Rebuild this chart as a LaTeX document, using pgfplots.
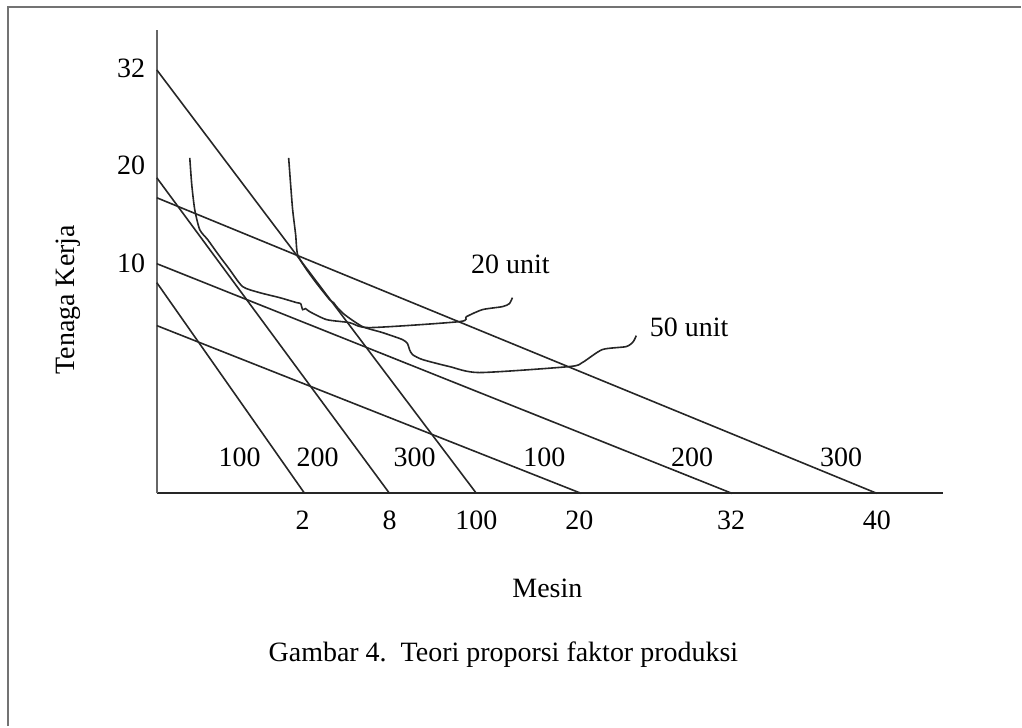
\documentclass[border=0pt]{standalone}
\usepackage{fontspec}
\setmainfont{Liberation Serif}
\usepackage{pgfplots}
\pgfplotsset{compat=1.18}

\begin{document}
\fontsize{14}{16.8}\selectfont
\begin{tikzpicture}
\begin{axis}[
	x=0.5pt, y=0.5pt,
	xmin=0, xmax=787, ymin=0, ymax=464,
	axis lines=left,
	axis line style={-, line width=1pt},
	x axis line style={black!85},
	y axis line style={black!60},
	major tick length=0pt,
	xtick={146,233,320,423,575,721},
	xticklabels={2,8,100,20,32,40},
	ytick={230,328,426},
	yticklabels={10,20,32},
	xticklabel style={yshift=-4pt},
	yticklabel style={xshift=-1pt},
	xlabel={Mesin},
	xlabel style={at={(axis cs:391,-95)}, anchor=center},
	ylabel={Tenaga Kerja},
	ylabel style={at={(axis cs:-89,194)}, anchor=center},
	clip=false,
	ln/.style={black!85, line width=0.8pt, mark=none},
]
% isocost lines
\addplot[ln] coordinates {(0,211) (148,0)};
\addplot[ln] coordinates {(0,316) (233,0)};
\addplot[ln] coordinates {(0,424) (320,0)};
\addplot[ln] coordinates {(0,168) (425,0)};
\addplot[ln] coordinates {(0,230) (576,0)};
\addplot[ln] coordinates {(0,296) (721,0)};
% isoquant 20 unit
\addplot[ln, smooth, tension=0.4] coordinates {
	(33,336) (35,309) (38,284) (43,264) (51,254) (61,240) (73,224) (86,207)
	(103,201) (123,196) (140,191) (144,190) (146,184) (149,185) (153,182)
	(170,174) (193,171) (213,166) (303,172) (310,177) (326,184) (346,187)
	(353,190) (356,196)
};
% isoquant 50 unit
\addplot[ln, smooth, tension=0.4] coordinates {
	(132,336) (134,309) (136,284) (139,259) (141,239) (150,224) (161,209)
	(173,194) (177,191) (180,187) (188,179) (206,167) (226,161) (246,154)
	(251,150) (253,144) (256,139) (266,134) (293,127) (323,121) (413,127)
	(426,131) (446,144) (470,147) (477,152) (480,158)
};
\node at (axis cs:354,229) {20 unit};
\node at (axis cs:533,166) {50 unit};
\node at (axis cs:83,36) {100};
\node at (axis cs:161,36) {200};
\node at (axis cs:258,36) {300};
\node at (axis cs:388,36) {100};
\node at (axis cs:536,36) {200};
\node at (axis cs:685,36) {300};
\node at (axis cs:347,-161) {Gambar 4.\ \ Teori proporsi faktor produksi};
% page frame and picture extent
\draw[black!55, line width=1.2pt] (axis cs:-149,-233) -- (axis cs:-149,487) -- (axis cs:865,487);
\path (axis cs:-157,-233) rectangle (axis cs:865,494);
\end{axis}
\end{tikzpicture}
\end{document}
